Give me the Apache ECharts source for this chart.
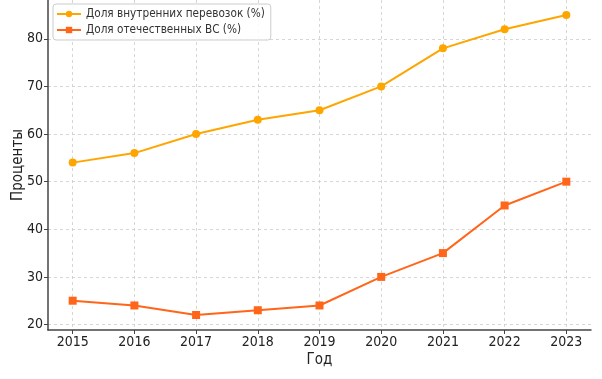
<!DOCTYPE html>
<html><head><meta charset="utf-8">
<script src="https://cdn.jsdelivr.net/npm/echarts@6/dist/echarts.min.js"></script>
<style>html,body{margin:0;padding:0;background:#fff}#c{width:602px;height:379px}</style>
</head><body><div id="c"></div>
<script>
const years = [2015, 2016, 2017, 2018, 2019, 2020, 2021, 2022, 2023];
const domesticShare = [54, 56, 60, 63, 65, 70, 78, 82, 85];
const nationalAircraftShare = [25, 24, 22, 23, 24, 30, 35, 45, 50];
const yTicks = [20, 30, 40, 50, 60, 70, 80];
const seriesNames = ['Доля внутренних перевозок (%)', 'Доля отечественных ВС (%)'];

const font = '"DejaVu Sans Condensed", "DejaVu Sans"';
const chart = echarts.init(document.getElementById('c'));
const axisCommon = {
  axisLine: {show: true, lineStyle: {color: '#444', width: 1.5}},
  axisTick: {show: true, length: 4, lineStyle: {color: '#444', width: 1}},
  splitLine: {show: true, lineStyle: {color: '#ccc', type: [3, 3], width: 0.8}},
  axisLabel: {color: '#222', fontFamily: font, fontSize: 14, margin: 5},
  nameTextStyle: {color: '#222', fontFamily: font, fontSize: 15},
  nameMoveOverlap: false
};
chart.setOption({
  animation: false,
  grid: {left: 48, top: 0, right: 11, bottom: 49, containLabel: false, outerBoundsMode: 'none'},
  legend: {
    left: 53, top: 4, orient: 'vertical', itemGap: 4,
    itemWidth: 24, itemHeight: 8,
    backgroundColor: 'rgba(255,255,255,0.85)', borderColor: '#ccc', borderWidth: 1, borderRadius: 3,
    padding: [4, 6, 4, 3],
    textStyle: {fontFamily: font, fontSize: 11.7, color: '#333'},
    data: seriesNames
  },
  xAxis: Object.assign({}, axisCommon, {
    type: 'value', min: 2014.6, max: 2023.4,
    name: 'Год', nameLocation: 'middle', nameGap: 23,
    axisTick: Object.assign({}, axisCommon.axisTick, {customValues: years}),
    axisLabel: Object.assign({}, axisCommon.axisLabel, {customValues: years, formatter: v => String(v)})
  }),
  yAxis: Object.assign({}, axisCommon, {
    type: 'value', min: 18.85, max: 88.15,
    name: 'Проценты', nameLocation: 'middle', nameGap: 22,
    axisTick: Object.assign({}, axisCommon.axisTick, {customValues: yTicks}),
    axisLabel: Object.assign({}, axisCommon.axisLabel, {customValues: yTicks})
  }),
  series: [
    {name: seriesNames[0], type: 'line', data: years.map((y, i) => [y, domesticShare[i]]),
     symbol: 'circle', symbolSize: 8, lineStyle: {width: 2, color: '#FFA500'}, itemStyle: {color: '#FFA500'}},
    {name: seriesNames[1], type: 'line', data: years.map((y, i) => [y, nationalAircraftShare[i]]),
     symbol: 'rect', symbolSize: 8, lineStyle: {width: 2, color: '#FF6619'}, itemStyle: {color: '#FF6619'}}
  ]
});
</script></body></html>
